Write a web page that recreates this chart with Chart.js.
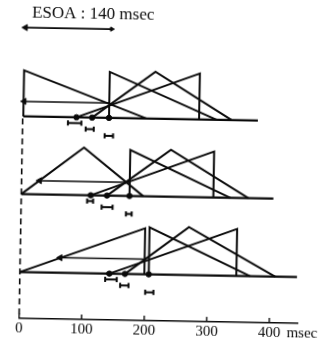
<!DOCTYPE html>
<html><head><meta charset="utf-8">
<script src="https://cdn.jsdelivr.net/npm/chart.js@4.4.1/dist/chart.umd.min.js"></script>
<style>
html,body{margin:0;padding:0;background:#fff;overflow:hidden;}
canvas{display:block;transform:rotate(1.03deg);transform-origin:164.5px 172.5px;}
</style></head><body>
<canvas id="c" width="329" height="345"></canvas>
<script>
// ---------------- data (times in msec, amplitudes in arbitrary units) ----------------
const conditions = ['upper', 'middle', 'lower'];
const tickValues = [0, 100, 200, 300, 400];
const esoaLabel = 'ESOA : 140 msec';
const esoaArrow = [2, 140];
// each triangle: [start, peak, end, height]
const tri1 = [[1, 1, 198, 46], [0, 99, 195, 47.6], [0, 199, 199, 46]];
const tri2 = [[138, 138, 310, 46], [173, 173, 334, 46], [206, 206, 368, 47]];
const tri3 = [[111, 211, 334, 47], [137, 238, 363, 47], [168, 269, 408, 48]];
const tri4 = [[86, 282, 282, 46], [111, 307, 307, 46], [143, 346, 346, 47]];
const baselineEnd = [376, 403, 443];
const arrowFrom = [2, 29, 64];
const arrowTo = [138, 170, 197];
const arrowLevel = [15, 13.7, 15];
const errLo = [[72.5, 101, 131.5], [105.4, 128.7, 167.8], [136.5, 160.6, 200.8]];
const errHi = [[94, 114, 145], [115, 146.3, 177], [155, 174, 214]];

// ---------------- layout / style ----------------
const INK = '#0a0a0a';
const SERIF = '"Liberation Serif", "Times New Roman", serif';
const OFFSET = [201.7, 124, 46];
const ERR_ROW = [-5.8, -11.6, -18];
const ESOA_LEVEL = 290.5;

const datasets = [];
function line(points, extra) {
  datasets.push(Object.assign({
    data: points, showLine: true, borderColor: INK, backgroundColor: INK,
    borderWidth: 2, pointRadius: 0, clip: false, tension: 0
  }, extra || {}));
}

conditions.forEach((c, i) => {
  const b = OFFSET[i];
  line([{x: tri1[i][0], y: b}, {x: baselineEnd[i], y: b}], {borderWidth: 2.1});
  [tri1, tri2, tri3, tri4].forEach(t => {
    const [s, p, e, h] = t[i];
    line([{x: s, y: b}, {x: p, y: b + h}, {x: e, y: b}]);
  });
  line([{x: arrowFrom[i], y: b + arrowLevel[i]}, {x: arrowTo[i], y: b + arrowLevel[i]}],
       {borderWidth: 1.5, pointStyle: 'triangle', pointRadius: [3.5, 0], pointRotation: [270, 0], pointBorderWidth: 1});
  const dots = [tri4[i][0], tri3[i][0], tri2[i][0]];
  datasets.push({data: dots.map(t => ({x: t, y: b})), showLine: false, pointStyle: 'circle',
    pointRadius: 2.7, backgroundColor: INK, borderColor: INK, clip: false});
  errLo[i].forEach((lo, k) => {
    const y = b + ERR_ROW[k];
    line([{x: lo, y}, {x: errHi[i][k], y}],
         {borderWidth: 2, pointStyle: 'line', pointRadius: 2.6, pointRotation: 90, pointBorderWidth: 2});
  });
});
// dashed time-zero line
line([{x: 0, y: OFFSET[0] - 2}, {x: 0, y: 0}], {borderDash: [6, 4], borderWidth: 1.6});
// axis tick marks
tickValues.forEach(v => line([{x: v, y: 0}, {x: v, y: 4.5}], {borderWidth: 1.4}));
// ESOA arrow
line([{x: esoaArrow[0], y: ESOA_LEVEL}, {x: esoaArrow[1], y: ESOA_LEVEL}],
     {borderWidth: 1.6, pointStyle: 'triangle', pointRadius: [3.5, 2.5], pointRotation: [270, 90], pointBorderWidth: 1});

const textPlugin = {
  id: 'texts',
  afterDraw(chart) {
    const {ctx, scales: {x, y}} = chart;
    ctx.save();
    ctx.fillStyle = INK;
    ctx.font = '17px ' + SERIF;
    ctx.textBaseline = 'alphabetic';
    ctx.textAlign = 'left';
    ctx.fillText(esoaLabel, x.getPixelForValue(12), y.getPixelForValue(301));
    ctx.font = '15px ' + SERIF;
    ctx.textAlign = 'center';
    ctx.fillText('msec', x.right + 4.7, 335);
    ctx.restore();
  }
};

new Chart(document.getElementById('c'), {
  type: 'scatter',
  data: {datasets},
  options: {
    responsive: false, animation: false, events: [],
    layout: {padding: {left: 21.7, right: 28.9, top: 10.6, bottom: 4.4}},
    plugins: {legend: {display: false}, tooltip: {enabled: false}},
    scales: {
      x: {
        type: 'linear', min: 0, max: 445,
        afterBuildTicks: s => { s.ticks = tickValues.map(v => ({value: v})); },
        afterFit: s => { s.height = 20; },
        grid: {display: false, drawTicks: false},
        border: {display: true, color: INK, width: 1.6},
        ticks: {padding: 1, color: INK, maxRotation: 0, autoSkip: false, font: {family: SERIF, size: 15}}
      },
      y: {type: 'linear', min: 0, max: 310, display: false}
    }
  },
  plugins: [textPlugin]
});
</script>
</body></html>
